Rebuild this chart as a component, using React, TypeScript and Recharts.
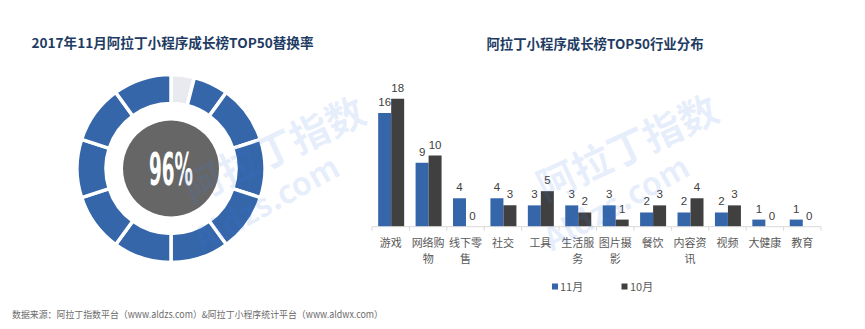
import React from 'react';
import { PieChart, Pie, Cell, BarChart, Bar, XAxis, YAxis, LabelList } from 'recharts';

// ---- data ----
const leftTitle = '2017年11月阿拉丁小程序成长榜TOP50替换率';
const rightTitle = '阿拉丁小程序成长榜TOP50行业分布';
const replacementLabel = '96%';
// donut ring: first value is the unchanged share (4%), rest are 96% split in 10% segments
const ringValues = [4, 6, 10, 10, 10, 10, 10, 10, 10, 10, 10];
const ringKinds = ['rest', 'rate', 'rate', 'rate', 'rate', 'rate', 'rate', 'rate', 'rate', 'rate', 'rate'];

const categories = ['游戏', '网络购物', '线下零售', '社交', '工具', '生活服务', '图片摄影', '餐饮', '内容资讯', '视频', '大健康', '教育'];
const novValues = [16, 9, 4, 4, 3, 3, 3, 2, 2, 2, 1, 1];
const octValues = [18, 10, 0, 3, 5, 2, 1, 3, 4, 3, 0, 0];
const seriesNames = ['11月', '10月'];
const footnote = '数据来源：阿拉丁指数平台（www.aldzs.com）&阿拉丁小程序统计平台（www.aldwx.com）';
const watermarkCn = '阿拉丁指数';
const watermarkEn = 'Aldzs.com';

// ---- styles ----
const BLUE = '#3466a9';
const DARK = '#404040';
const REST = '#e8eaef';
const TITLE = '#213b63';
const FONT = "'Noto Sans CJK SC', 'Noto Sans', sans-serif";
const NUM_FONT = "'Liberation Sans', Arial, sans-serif";

const ringData = ringValues.map((v, i) => ({ name: ringKinds[i] + i, value: v, kind: ringKinds[i] }));
const barData = categories.map((c, i) => ({ name: c, nov: novValues[i], oct: octValues[i] }));

const PLOT_LEFT = 372;
const PLOT_RIGHT = 821;
const HALF_BAND = (PLOT_RIGHT - PLOT_LEFT) / categories.length / 2;

const CategoryTick = (props: any) => {
  const { x, y, payload, index } = props;
  const text: string = payload.value;
  const lines = text.length > 3 ? [text.slice(0, 3), text.slice(3)] : [text];
  return (
    <g>
      <line x1={x - HALF_BAND} x2={x - HALF_BAND} y1={y} y2={y + 4} stroke="#d9d9d9" strokeWidth={1} />
      {index === categories.length - 1 && (
        <line x1={x + HALF_BAND} x2={x + HALF_BAND} y1={y} y2={y + 4} stroke="#d9d9d9" strokeWidth={1} />
      )}
      <text x={x} y={y} textAnchor="middle" fill="#595959" fontSize={11} fontFamily={FONT}>
        {lines.map((l, i) => (
          <tspan key={i} x={x} dy={i === 0 ? 20.5 : 16}>
            {l}
          </tspan>
        ))}
      </text>
    </g>
  );
};

const ValueLabel = (props: any) => {
  const { x, y, width, value } = props;
  if (value === undefined || value === null) return null;
  return (
    <text x={Number(x) + Number(width) / 2} y={Number(y) - 7} textAnchor="middle" fill="#404040" fontSize={11.5} fontFamily={NUM_FONT}>
      {value}
    </text>
  );
};

export default function App() {
  return (
    <div style={{ position: 'absolute', left: 0, top: 0, width: 865, height: 329, background: '#fff', overflow: 'hidden' }}>
      <svg width={865} height={329} style={{ position: 'absolute', left: 0, top: 0 }}>
        <text x={172.5} y={47.5} textAnchor="middle" fill={TITLE} fontSize={13.6} fontWeight="bold" fontFamily={FONT}>
          {leftTitle}
        </text>
        <text x={595} y={49} textAnchor="middle" fill={TITLE} fontSize={13.4} fontWeight="bold" fontFamily={FONT}>
          {rightTitle}
        </text>
        <text x={12} y={318} fill="#6b6b6b" fontSize={9.5} fontFamily={FONT} textLength={371} lengthAdjust="spacingAndGlyphs">
          {footnote}
        </text>
        <g fontFamily={FONT} fontSize={11} fill="#595959">
          <rect x={552} y={283.5} width={6} height={6} fill={BLUE} />
          <text x={560} y={291}>{seriesNames[0]}</text>
          <rect x={621.5} y={283.5} width={6} height={6} fill={DARK} />
          <text x={630} y={291}>{seriesNames[1]}</text>
        </g>
      </svg>

      <div style={{ position: 'absolute', left: 0, top: 0 }}>
        <PieChart width={345} height={329} margin={{ top: 0, right: 0, bottom: 0, left: 0 }}>
          <Pie
            data={ringData}
            dataKey="value"
            cx={171}
            cy={168.5}
            innerRadius={65}
            outerRadius={94}
            startAngle={90}
            endAngle={-270}
            stroke="#ffffff"
            strokeWidth={3.5}
            isAnimationActive={false}
          >
            {ringData.map((d, i) => (
              <Cell key={i} fill={d.kind === 'rest' ? REST : BLUE} />
            ))}
          </Pie>
          <Pie
            data={[{ name: 'c', value: 1 }]}
            dataKey="value"
            cx={171}
            cy={168.5}
            innerRadius={0}
            outerRadius={48}
            fill="#666666"
            stroke="none"
            isAnimationActive={false}
          />
        </PieChart>
      </div>

      <svg width={345} height={329} style={{ position: 'absolute', left: 0, top: 0 }}>
        <text
          x={149}
          y={185}
          fill="#ffffff"
          fontSize={44}
          fontWeight="bold"
          fontFamily="'Liberation Sans Narrow', 'DejaVu Sans Condensed', sans-serif"
          textLength={44}
          lengthAdjust="spacingAndGlyphs"
        >
          {replacementLabel}
        </text>
      </svg>

      <div style={{ position: 'absolute', left: 0, top: 0 }}>
        <BarChart
          width={865}
          height={329}
          data={barData}
          margin={{ top: 84.5, right: 865 - PLOT_RIGHT, bottom: 42.3, left: PLOT_LEFT }}
          barGap={0}
          barCategoryGap="16.5%"
        >
          <XAxis
            dataKey="name"
            height={60}
            axisLine={{ stroke: '#d9d9d9' }}
            tickLine={false}
            tickSize={0}
            tickMargin={0}
            interval={0}
            tick={<CategoryTick />}
          />
          <YAxis hide domain={[0, 20]} />
          <Bar dataKey="nov" name={seriesNames[0]} fill={BLUE} minPointSize={0.001} isAnimationActive={false}>
            <LabelList dataKey="nov" content={<ValueLabel />} />
          </Bar>
          <Bar dataKey="oct" name={seriesNames[1]} fill={DARK} minPointSize={0.001} isAnimationActive={false}>
            <LabelList dataKey="oct" content={<ValueLabel />} />
          </Bar>
        </BarChart>
      </div>

      <svg width={865} height={329} style={{ position: 'absolute', left: 0, top: 0, pointerEvents: 'none' }}>
        <g fill="#3f7be6" fillOpacity={0.12} fontFamily={FONT} fontWeight="bold">
          <text fontSize={39} transform="translate(192,204) rotate(-25)">{watermarkCn}</text>
          <text fontSize={32} transform="translate(202,252) rotate(-29)">{watermarkEn}</text>
          <text fontSize={39} transform="translate(545,202) rotate(-25)">{watermarkCn}</text>
          <text fontSize={32} transform="translate(552,252) rotate(-29)">{watermarkEn}</text>
        </g>
      </svg>
    </div>
  );
}
